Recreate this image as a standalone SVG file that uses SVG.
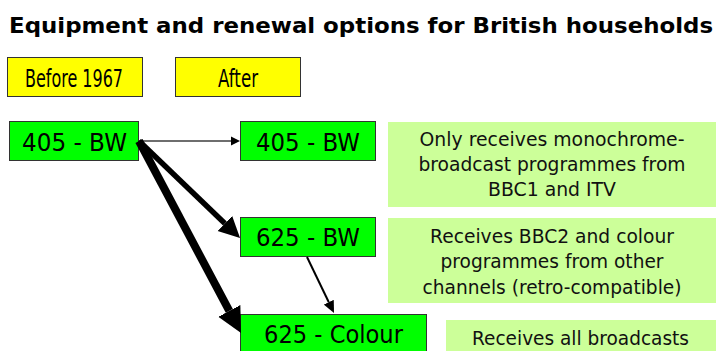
<svg xmlns="http://www.w3.org/2000/svg" width="721" height="351" viewBox="0 0 721 351">
  <style>
    .title { font-family: "DejaVu Sans", "Liberation Sans", sans-serif; font-weight: bold; font-size: 21px; fill: #000; }
    .lbl { font-family: "DejaVu Sans", "Liberation Sans", sans-serif; font-size: 24px; fill: #000; }
    .note { font-family: "DejaVu Sans", "Liberation Sans", sans-serif; font-size: 19px; fill: #111; }
    .yellow { fill: #FFFF00; stroke: #333; stroke-width: 1; }
    .green { fill: #00FF00; stroke: #333; stroke-width: 1; }
    .pale { fill: #CCFF99; stroke: none; }
    .conn { fill: none; }
  </style>
  <defs>
    <marker id="head-s" markerUnits="userSpaceOnUse" viewBox="0 -5 9 10" refX="0" refY="0" markerWidth="9" markerHeight="10" orient="auto">
      <path d="M0,-4.5 L9,0 L0,4.5z" fill="#000"/>
    </marker>
    <marker id="head-m" markerUnits="userSpaceOnUse" viewBox="0 -6 12 12" refX="0" refY="0" markerWidth="12" markerHeight="12" orient="auto">
      <path d="M0,-5.5 L12,0 L0,5.5z" fill="#000"/>
    </marker>
    <marker id="head-l" markerUnits="userSpaceOnUse" viewBox="0 -11 21 22" refX="0" refY="0" markerWidth="21" markerHeight="22" orient="auto">
      <path d="M0,-10.5 L21,0 L0,10.5z" fill="#000"/>
    </marker>
    <marker id="head-xl" markerUnits="userSpaceOnUse" viewBox="0 -13 25 26" refX="0" refY="0" markerWidth="25" markerHeight="26" orient="auto">
      <path d="M0,-12.5 L25,0 L0,12.5z" fill="#000"/>
    </marker>
  </defs>

  <text class="title" x="361" y="33" text-anchor="middle" textLength="704" lengthAdjust="spacingAndGlyphs">Equipment and renewal options for British households</text>

  <g id="before-header">
    <rect class="yellow" x="7.5" y="57.5" width="135" height="39"/>
    <text class="lbl" x="74" y="87" text-anchor="middle" textLength="98" lengthAdjust="spacingAndGlyphs">Before 1967</text>
  </g>
  <g id="after-header">
    <rect class="yellow" x="175.5" y="57.5" width="125" height="39"/>
    <text class="lbl" x="238" y="87" text-anchor="middle" textLength="40" lengthAdjust="spacingAndGlyphs">After</text>
  </g>

  <g id="set-405-bw-before">
    <rect class="green" x="9.5" y="121.5" width="129" height="39"/>
    <text class="lbl" x="74.5" y="151" text-anchor="middle" textLength="105" lengthAdjust="spacingAndGlyphs">405 - BW</text>
  </g>
  <g id="set-405-bw-after">
    <rect class="green" x="240.5" y="121.5" width="135" height="39"/>
    <text class="lbl" x="308" y="151" text-anchor="middle" textLength="104" lengthAdjust="spacingAndGlyphs">405 - BW</text>
  </g>
  <g id="set-625-bw">
    <rect class="green" x="240.5" y="217.5" width="135" height="39"/>
    <text class="lbl" x="308" y="246" text-anchor="middle" textLength="104" lengthAdjust="spacingAndGlyphs">625 - BW</text>
  </g>
  <g id="set-625-colour">
    <rect class="green" x="240.5" y="314.5" width="186" height="40"/>
    <text class="lbl" x="333.5" y="343" text-anchor="middle" textLength="139" lengthAdjust="spacingAndGlyphs">625 - Colour</text>
  </g>

  <g id="note-405">
    <rect class="pale" x="388" y="122" width="328" height="85"/>
    <text class="note" x="552" y="146" text-anchor="middle" textLength="265" lengthAdjust="spacingAndGlyphs">Only receives monochrome-</text>
    <text class="note" x="552" y="171" text-anchor="middle" textLength="267" lengthAdjust="spacingAndGlyphs">broadcast programmes from</text>
    <text class="note" x="552" y="196" text-anchor="middle" textLength="128" lengthAdjust="spacingAndGlyphs">BBC1 and ITV</text>
  </g>
  <g id="note-625-bw">
    <rect class="pale" x="388" y="218" width="328" height="85"/>
    <text class="note" x="552" y="243" text-anchor="middle" textLength="244" lengthAdjust="spacingAndGlyphs">Receives BBC2 and colour</text>
    <text class="note" x="552" y="268" text-anchor="middle" textLength="223" lengthAdjust="spacingAndGlyphs">programmes from other</text>
    <text class="note" x="552" y="294" text-anchor="middle" textLength="259" lengthAdjust="spacingAndGlyphs">channels (retro-compatible)</text>
  </g>
  <g id="note-625-colour">
    <rect class="pale" x="446" y="320" width="270" height="35"/>
    <text class="note" x="580.5" y="345" text-anchor="middle" textLength="217" lengthAdjust="spacingAndGlyphs">Receives all broadcasts</text>
  </g>

  <g id="connectors">
    <line class="conn" x1="139" y1="141" x2="231" y2="141" style="stroke:#6e6e6e;stroke-width:2" marker-end="url(#head-s)"/>
    <line class="conn" x1="139" y1="141" x2="224.9" y2="223.5" style="stroke:#000;stroke-width:5.5" marker-end="url(#head-l)"/>
    <line class="conn" x1="139" y1="141" x2="229.3" y2="310.9" style="stroke:#000;stroke-width:8" marker-end="url(#head-xl)"/>
    <line class="conn" x1="307" y1="257" x2="328.8" y2="302.2" style="stroke:#000;stroke-width:2" marker-end="url(#head-m)"/>
  </g>
</svg>
